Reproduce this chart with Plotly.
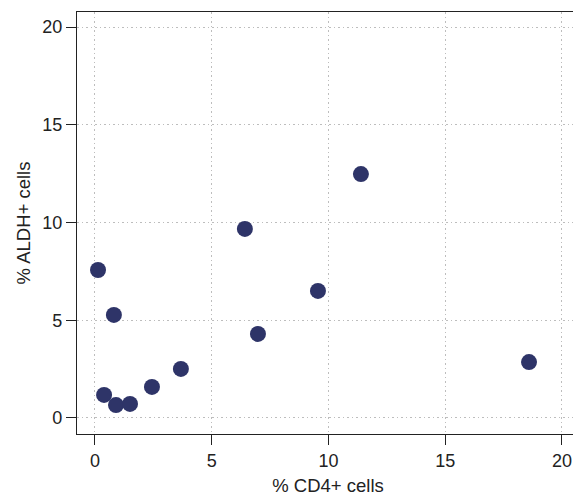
import plotly.graph_objects as go

cd4 = [0.13, 0.81, 0.39, 0.9, 1.5, 2.44, 3.68, 6.42, 6.98, 9.55, 11.39, 18.59]
aldh = [7.57, 5.27, 1.18, 0.66, 0.72, 1.59, 2.51, 9.67, 4.3, 6.5, 12.48, 2.86]
ticks = [0, 5, 10, 15, 20]

fig = go.Figure(go.Scatter(
    x=cd4, y=aldh, mode="markers",
    marker=dict(size=16, color="#2e3468", line=dict(width=0)),
))

axis_common = dict(
    showline=True, mirror=True, linecolor="#222", linewidth=1.3,
    ticks="outside", ticklen=10, tickwidth=1.3, tickcolor="#222",
    showgrid=True, gridcolor="#bdbdbd", griddash="1.5px,3px", gridwidth=1.2,
    zeroline=False, tickvals=ticks,
    tickfont=dict(size=18, color="#222"),
)

fig.update_layout(
    width=573, height=488,
    margin=dict(l=69, r=2, t=4, b=62),
    paper_bgcolor="white", plot_bgcolor="white",
    font=dict(family="Liberation Sans, Arial, sans-serif", color="#222"),
    showlegend=False,
    xaxis=dict(range=[-0.77, 20.73], title=dict(text="% CD4+ cells", font=dict(size=18.5), standoff=10), **axis_common),
    yaxis=dict(range=[-0.82, 20.77], title=dict(text="% ALDH+ cells", font=dict(size=18.5), standoff=6), **axis_common),
)

fig.write_html("out.html")
